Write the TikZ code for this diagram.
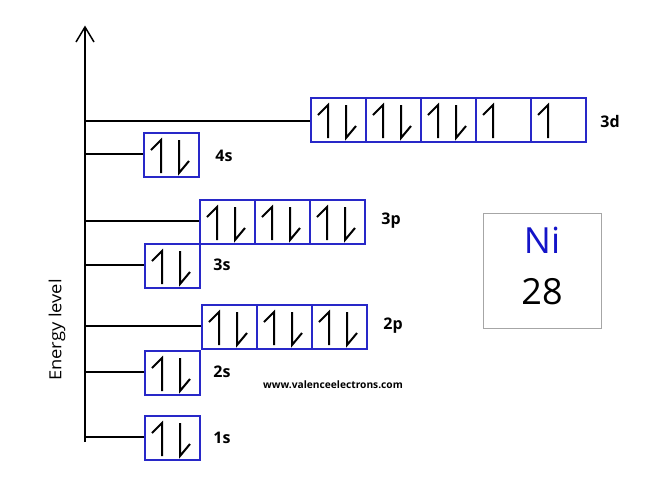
\documentclass[tikz,border=0pt]{standalone}
\usepackage{fontspec}
\setmainfont{Open Sans}
\definecolor{orbblue}{RGB}{40,40,200}
\definecolor{niblue}{RGB}{20,20,200}
\begin{document}
\begin{tikzpicture}[x=0.75pt,y=-0.75pt,line width=1.1pt,
  orb/.style={draw=orbblue,line width=1.2pt,minimum width=41.25pt,minimum height=33pt,inner sep=0pt,anchor=north west},
  el/.style={line width=1.5pt},
  lbl/.style={font=\fontsize{12}{14}\selectfont\bfseries}]
\useasboundingbox (0,0) rectangle (664,483);
\newcommand{\upe}[2]{\draw[el] (#1+18,#2+41) -- (#1+18,#2+8) -- (#1+8,#2+18);}
\newcommand{\dne}[2]{\draw[el] (#1+36,#2+8) -- (#1+36,#2+41) -- (#1+46,#2+29);}
\newcommand{\pairbox}[3]{\upe{#1}{#2}\dne{#1}{#2}\node[orb] (#3) at (#1,#2) {};}
\newcommand{\upbox}[3]{\upe{#1}{#2}\node[orb] (#3) at (#1,#2) {};}
% axis
\coordinate (a0) at (85,442);
\coordinate (a1) at (85,27);
\draw (a0) -- (a1);
\draw (76,42) -- (a1) -- (94,42);
\node[rotate=90,font=\fontsize{12.5}{14}\selectfont,xscale=1.1] (el) at (57,330) {Energy level};
% 3d
\coordinate (y3d) at (85,121); \draw (y3d) -- (310,121);
\pairbox{310}{97}{d1}\pairbox{365}{97}{d2}\pairbox{420}{97}{d3}\upbox{475}{97}{d4}\upbox{530}{97}{d5}
\node[lbl] (l3d) at (610,121) {3d};
% 4s
\coordinate (y4s) at (85,154); \draw (y4s) -- (143,154);
\pairbox{143}{132}{s4}
\node[lbl] (l4s) at (224,156) {4s};
% 3p
\coordinate (y3p) at (85,221); \draw (y3p) -- (199,221);
\pairbox{199}{199}{p31}\pairbox{254}{199}{p32}\pairbox{309}{199}{p33}
\node[lbl] (l3p) at (391,221) {3p};
% 3s
\coordinate (y3s) at (85,265); \draw (y3s) -- (144,265);
\pairbox{144}{243}{s3}
\node[lbl] (l3s) at (222,265) {3s};
% 2p
\coordinate (y2p) at (85,326); \draw (y2p) -- (201,326);
\pairbox{201}{304}{p21}\pairbox{256}{304}{p22}\pairbox{311}{304}{p23}
\node[lbl] (l2p) at (393,326) {2p};
% 2s
\coordinate (y2s) at (85,372); \draw (y2s) -- (144,372);
\pairbox{144}{350}{s2}
\node[lbl] (l2s) at (222,372) {2s};
% 1s
\coordinate (y1s) at (85,437); \draw (y1s) -- (144,437);
\pairbox{144}{415}{s1}
\node[lbl] (l1s) at (222,438) {1s};
% Ni
\node[draw=gray!70,line width=0.6pt,minimum width=88.5pt,minimum height=86pt,anchor=north west] (ni) at (483,213) {};
\node[text=niblue,font=\fontsize{27}{30}\selectfont] (nis) at (542,240) {Ni};
\node[text=black,font=\fontsize{27}{30}\selectfont] (nin) at (542,292) {28};
\node[font=\fontsize{9}{10}\selectfont\bfseries,scale=0.85] (w) at (333,385) {www.valenceelectrons.com};
\end{tikzpicture}
\end{document}
